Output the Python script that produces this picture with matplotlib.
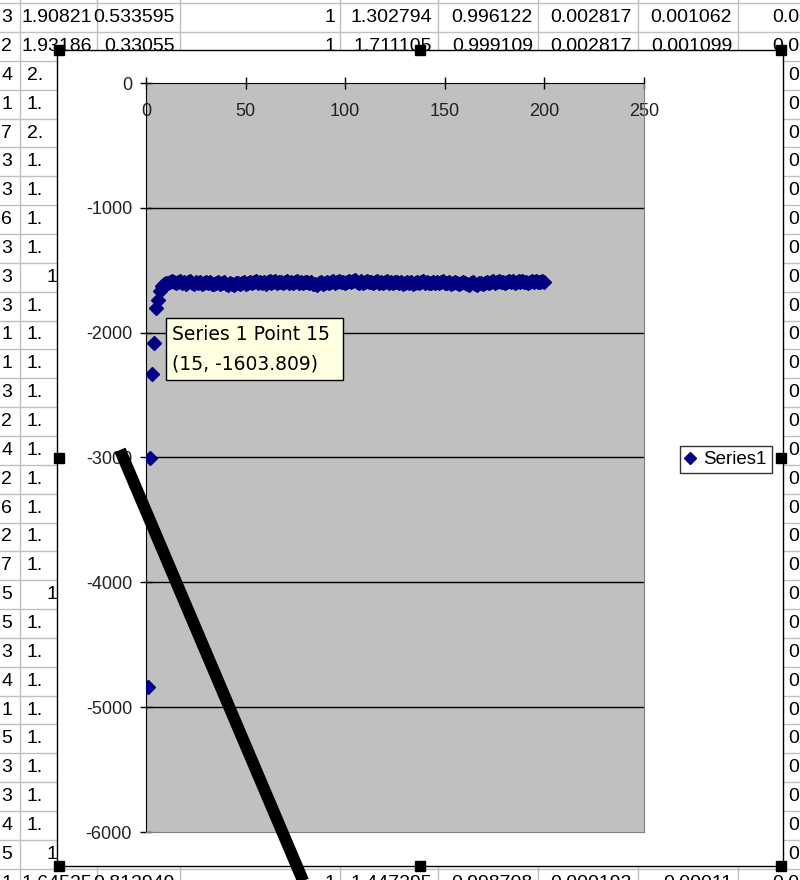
import matplotlib
matplotlib.use("Agg")
import matplotlib.pyplot as plt
from matplotlib.patches import Rectangle
from matplotlib.lines import Line2D

plt.rcParams["axes.unicode_minus"] = False

# series values (x = point index)
point_index = list(range(1, 201))
series1 = [
    -4840, -3005, -2335, -2080, -1800, -1740, -1665, -1625, -1610, -1600,
    -1600, -1594, -1588, -1598, -1603.809, -1592, -1586, -1600, -1594, -1607,
    -1598, -1590, -1602, -1609, -1596, -1604, -1593, -1612, -1600, -1597,
    -1605, -1596, -1608, -1614, -1602, -1597, -1611, -1603, -1598, -1608,
    -1615, -1604, -1611, -1620, -1606, -1601, -1613, -1604, -1597, -1609,
    -1600, -1594, -1606, -1598, -1589, -1603, -1596, -1601, -1592, -1607,
    -1598, -1588, -1600, -1595, -1585, -1602, -1596, -1591, -1601, -1594,
    -1587, -1599, -1592, -1604, -1595, -1588, -1600, -1594, -1606, -1598,
    -1591, -1602, -1595, -1607, -1612, -1618, -1604, -1597, -1609, -1600,
    -1594, -1604, -1596, -1589, -1600, -1592, -1586, -1598, -1591, -1602,
    -1595, -1585, -1596, -1588, -1580, -1593, -1599, -1589, -1600, -1594,
    -1587, -1598, -1591, -1602, -1595, -1588, -1599, -1592, -1604, -1596,
    -1589, -1600, -1594, -1606, -1598, -1591, -1602, -1595, -1609, -1599,
    -1592, -1603, -1596, -1611, -1600, -1594, -1604, -1598, -1589, -1601,
    -1595, -1606, -1599, -1591, -1600, -1594, -1604, -1596, -1588, -1599,
    -1606, -1598, -1609, -1601, -1595, -1604, -1611, -1600, -1594, -1603,
    -1608, -1615, -1604, -1598, -1612, -1619, -1606, -1600, -1610, -1601,
    -1595, -1604, -1598, -1589, -1600, -1593, -1586, -1598, -1591, -1600,
    -1594, -1585, -1597, -1589, -1599, -1592, -1583, -1596, -1588, -1598,
    -1591, -1600, -1594, -1585, -1597, -1589, -1598, -1592, -1586, -1595,
]
x_ticks = [0, 50, 100, 150, 200, 250]
y_ticks = [0, -1000, -2000, -3000, -4000, -5000, -6000]
series_name = "Series1"
tooltip_lines = ["Series 1 Point 15", "(15, -1603.809)"]

# spreadsheet cells visible around the chart
top_row = ["3", "1.90821", "0.533595", "1", "1.302794", "0.996122", "0.002817", "0.001062"]
second_row = ["2", "1.93186", "0.33055", "1", "1.711105", "0.999109", "0.002817", "0.001099"]
bottom_row = ["1", "1.64525", "0.812949", "1", "1.447295", "0.998708", "0.000192", "0.00011"]
last_col = ["0.001093", "0.001101", "0.000183"]
col_a_digits = ["4", "1", "7", "3", "3", "6", "3", "3", "3", "1", "1", "3", "2", "4",
                "2", "6", "2", "7", "5", "5", "3", "4", "1", "5", "3", "3", "4", "5"]
col_b_start = ["2.", "1.", "2.", "1.", "1.", "1.", "1.", "1", "1.", "1.", "1.", "1.",
               "1.", "1.", "1.", "1.", "1.", "1.", "1", "1.", "1.", "1.", "1.", "1.",
               "1.", "1.", "1.", "1"]
col_right_peek = "0"

W, H = 800, 880
fig = plt.figure(figsize=(8, 8.8), dpi=100)

# --- spreadsheet background (pixel coordinates) ---
bg = fig.add_axes([0, 0, 1, 1], zorder=0)
bg.set_xlim(0, W)
bg.set_ylim(H, 0)
bg.axis("off")

grid_c = "#c0c0c0"
cell_font = dict(family="Liberation Sans", fontsize=14, color="black")
row_h = 28.85
row_lines = [3.2 + row_h * k for k in range(32)]
for yl in row_lines:
    bg.axhline(yl, color=grid_c, lw=1, zorder=0)
for xl in [20, 97, 180, 340, 438, 538, 638, 738]:
    bg.axvline(xl, color=grid_c, lw=1, zorder=0)

col_right = [12, 92, 175, 335, 432, 533, 632, 732]
row_centers = [yl + row_h / 2 for yl in row_lines]
for vals, last, yc in ((top_row, last_col[0], row_centers[0]),
                       (second_row, last_col[1], row_centers[1]),
                       (bottom_row, last_col[2], row_centers[30])):
    for v, xr in zip(vals, col_right):
        bg.text(xr, yc, v, ha="right", va="center", **cell_font)
    bg.text(772, yc, last, ha="left", va="center", **cell_font)
for i, (d, v) in enumerate(zip(col_a_digits, col_b_start)):
    yc = row_centers[i + 2]
    bg.text(12, yc, d, ha="right", va="center", **cell_font)
    bg.text(27 if v.endswith(".") else 46, yc, v, ha="left", va="center", **cell_font)
    bg.text(788, yc, col_right_peek, ha="left", va="center", **cell_font)

# chart area
bg.add_patch(Rectangle((57, 50), 726, 816, facecolor="white",
                       edgecolor="black", lw=1, zorder=5))

# --- plot area ---
ax = fig.add_axes([146 / W, 1 - 832 / H, (644 - 146) / W, (832 - 83) / H], zorder=2)
ax.set_facecolor("#c0c0c0")
ax.plot(point_index, series1, linestyle="none", marker="D", markersize=7.2,
        color="#000080", markeredgecolor="#000080", label=series_name, zorder=3)
ax.set_xlim(0, 250)
ax.set_ylim(-6000, 0)
ax.set_xticks(x_ticks)
ax.set_yticks(y_ticks)
ax.set_yticklabels([str(v) for v in y_ticks])
for yv in y_ticks[1:-1]:
    ax.axhline(yv, color="black", lw=1, zorder=1)
ax.xaxis.set_ticks_position("top")
ax.tick_params(axis="x", direction="inout", length=8, width=1, labeltop=True,
               labelbottom=False, pad=-31, labelsize=13, labelcolor="#222222")
ax.tick_params(axis="y", direction="inout", length=8, width=1, pad=6,
               labelsize=13, labelcolor="#222222")
for lab in ax.get_xticklabels() + ax.get_yticklabels():
    lab.set_family("Liberation Sans")
ax.spines["top"].set_color("black")
ax.spines["left"].set_color("black")
ax.spines["right"].set_color("#808080")
ax.spines["bottom"].set_color("#808080")

leg = ax.legend(loc="center left", bbox_to_anchor=(680 / W, 1 - 459.5 / H),
                bbox_transform=fig.transFigure, frameon=True, fancybox=False,
                prop={"family": "Liberation Sans", "size": 13.5},
                handlelength=0.6, handletextpad=0.4, borderpad=0.25,
                borderaxespad=0, markerscale=0.85)
leg.get_frame().set_edgecolor("black")
leg.get_frame().set_linewidth(1)

# --- overlay: tooltip, selection handles, pen stroke ---
ov = fig.add_axes([0, 0, 1, 1], zorder=4)
ov.set_xlim(0, W)
ov.set_ylim(H, 0)
ov.axis("off")
ov.patch.set_alpha(0)

ov.add_patch(Rectangle((166, 318), 177, 62, facecolor="#ffffe1",
                       edgecolor="black", lw=1))
ov.text(172, 334, tooltip_lines[0], ha="left", va="center",
        family="DejaVu Sans", fontsize=13.5)
ov.text(172, 364, tooltip_lines[1], ha="left", va="center",
        family="DejaVu Sans", fontsize=13.5)

for hx, hy in [(59, 50), (420, 50), (781, 50), (59, 458), (781, 458),
               (59, 866), (420, 866), (781, 866)]:
    ov.add_patch(Rectangle((hx - 5, hy - 5), 10, 10, facecolor="black",
                           edgecolor="black"))

ov.add_line(Line2D([120, 307], [450, 890], color="black", lw=8.6,
                   solid_capstyle="butt"))

fig.savefig("out.png", dpi=100)
